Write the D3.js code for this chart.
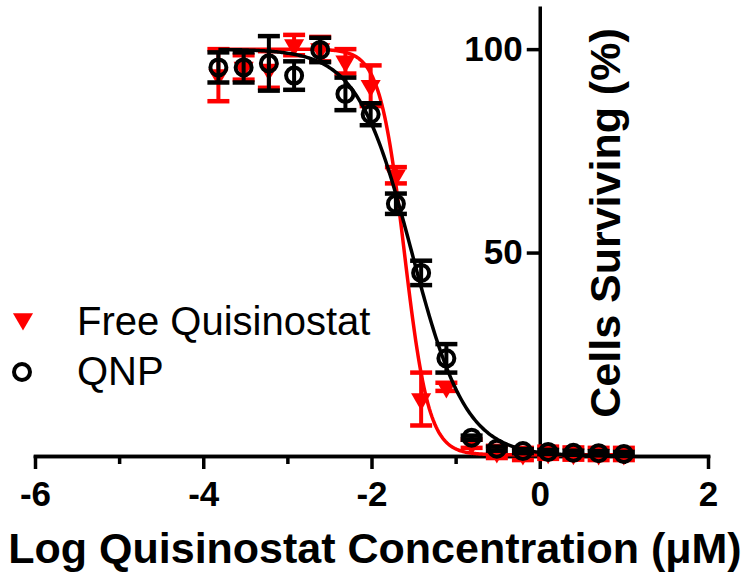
<!DOCTYPE html>
<html>
<head>
<meta charset="utf-8">
<script src="https://cdn.jsdelivr.net/npm/d3@7"></script>
<style>
  html, body { margin: 0; padding: 0; background: #fff; }
  svg { display: block; font-family: "Liberation Sans", Arial, Helvetica, sans-serif; }
</style>
</head>
<body>
<svg id="chart" width="750" height="580"></svg>
<script>
// ---- data ----
const logConc = [-3.82, -3.52, -3.22, -2.92, -2.61, -2.31, -2.01, -1.71, -1.41, -1.11, -0.81, -0.51, -0.20, 0.10, 0.40, 0.70, 1.00];
const freeMean = [93.6, 95.5, 95.0, 101.0, 100.0, 97.0, 91.0, 69.0, 14.0, 17.0, 3.0, 1.0, 0.5, 0.8, 0.6, 0.5, 0.5];
const freeErr  = [6.4, 3.0, 4.5, 2.5, 3.0, 3.0, 5.0, 2.0, 6.5, 1.0, 1.0, 1.5, 1.5, 1.5, 1.5, 1.5, 1.5];
const qnpMean  = [95.5, 95.5, 96.5, 93.5, 99.8, 89.0, 84.0, 62.0, 45.0, 24.0, 4.5, 1.8, 1.2, 1.0, 0.8, 0.7, 0.5];
const qnpErr   = [3.7, 3.7, 6.7, 3.5, 3.0, 4.0, 2.7, 2.5, 3.0, 3.5, 0.5, 0.5, 0.5, 0.5, 0.5, 0.5, 0.5];
// fitted sigmoid parameters [bottom, top, logIC50, hillSlope]
const freeFit = [0.3, 100, -1.61, 3.0];
const qnpFit  = [0.0, 100, -1.52, 1.35];
const xMajorTicks = [-6, -4, -2, 0, 2];
const xMinorTicks = [-5, -3, -1, 1];
const yTicks = [50, 100];
const seriesNames = ["Free Quisinostat", "QNP"];
const seriesColors = ["#ff0000", "#000000"];

// ---- drawing ----
const svg = d3.select("#chart");
const x = d3.scaleLinear().domain([-6, 2]).range([35, 708]);
const y = d3.scaleLinear().domain([0, 110.6]).range([456, 6]);
const AX = 3.5;

function curvePoints(p) {
  const [b, t, c, h] = p;
  const pts = [];
  const x0 = logConc[0], x1 = logConc[logConc.length - 1];
  for (let i = 0; i <= 300; i++) {
    const xv = x0 + (x1 - x0) * i / 300;
    pts.push([xv, b + (t - b) / (1 + Math.pow(10, (xv - c) * h))]);
  }
  return pts;
}
const line = d3.line().x(d => x(d[0])).y(d => y(d[1]));

// axes
const xMinor = d3.axisBottom(x).tickValues(xMinorTicks).tickFormat("").tickSize(8).tickSizeOuter(0);
const xMajor = d3.axisBottom(x).tickValues(xMajorTicks).tickFormat(d => d < 0 ? "-" + Math.abs(d) : String(d)).tickSize(13).tickSizeOuter(0).tickPadding(12);
const gxMinor = svg.append("g").attr("transform", `translate(0,${y(0)})`).call(xMinor);
const gx = svg.append("g").attr("transform", `translate(0,${y(0)})`).call(xMajor);
[gx, gxMinor].forEach(g => {
  g.selectAll("path.domain").attr("stroke", "#000").attr("stroke-width", AX).attr("stroke-linecap", "square");
  g.selectAll(".tick line").attr("stroke", "#000").attr("stroke-width", AX);
});
gx.selectAll(".tick text").attr("fill", "#000").style("font-size", "35px").style("font-weight", "bold");

const yAxis = d3.axisLeft(y).tickValues(yTicks).tickSize(13).tickSizeOuter(0).tickPadding(4);
const gy = svg.append("g").attr("transform", `translate(${x(0)},0)`).call(yAxis);
gy.selectAll("path.domain").attr("stroke", "#000").attr("stroke-width", AX);
gy.selectAll(".tick line").attr("stroke", "#000").attr("stroke-width", AX);
gy.selectAll(".tick text").attr("fill", "#000").style("font-size", "35px").style("font-weight", "bold");

// axis titles
svg.append("text")
  .attr("x", 375).attr("y", 563)
  .attr("text-anchor", "middle")
  .style("font-size", "43px").style("font-weight", "bold")
  .text("Log Quisinostat Concentration (\u03BCM)");
svg.append("text")
  .attr("transform", "translate(620,223) rotate(-90)")
  .attr("text-anchor", "middle")
  .style("font-size", "43px").style("font-weight", "bold")
  .text("Cells Surviving (%)");

// series
const capW = 22;
const triPath = d3.symbol(d3.symbolTriangle, 175)();
function drawSeries(means, errs, fit, color, marker) {
  const g = svg.append("g");
  g.append("path").datum(curvePoints(fit))
    .attr("d", line).attr("fill", "none").attr("stroke", color).attr("stroke-width", 3.5);
  const data = logConc.map((c, i) => ({ c, m: means[i], e: errs[i] }));
  const eb = g.append("g").selectAll("g").data(data).join("g");
  eb.append("line")
    .attr("x1", d => x(d.c)).attr("x2", d => x(d.c))
    .attr("y1", d => y(d.m - d.e)).attr("y2", d => y(d.m + d.e))
    .attr("stroke", color).attr("stroke-width", 4);
  eb.append("line")
    .attr("x1", d => x(d.c) - capW / 2).attr("x2", d => x(d.c) + capW / 2)
    .attr("y1", d => y(d.m + d.e)).attr("y2", d => y(d.m + d.e))
    .attr("stroke", color).attr("stroke-width", 4.5);
  eb.append("line")
    .attr("x1", d => x(d.c) - capW / 2).attr("x2", d => x(d.c) + capW / 2)
    .attr("y1", d => y(d.m - d.e)).attr("y2", d => y(d.m - d.e))
    .attr("stroke", color).attr("stroke-width", 4.5);
  if (marker === "tri") {
    g.append("g").selectAll("path").data(data).join("path")
      .attr("d", triPath)
      .attr("transform", d => `translate(${x(d.c)},${y(d.m)}) rotate(180)`)
      .attr("fill", color);
  } else {
    g.append("g").selectAll("circle").data(data).join("circle")
      .attr("cx", d => x(d.c)).attr("cy", d => y(d.m)).attr("r", 8)
      .attr("fill", "none").attr("stroke", color).attr("stroke-width", 4);
  }
}
drawSeries(freeMean, freeErr, freeFit, seriesColors[0], "tri");
drawSeries(qnpMean, qnpErr, qnpFit, seriesColors[1], "circle");

// legend
const lg = svg.append("g");
lg.append("path").attr("d", triPath).attr("transform", "translate(23,319) rotate(180)").attr("fill", seriesColors[0]);
lg.append("circle").attr("cx", 22).attr("cy", 372).attr("r", 8).attr("fill", "none").attr("stroke", seriesColors[1]).attr("stroke-width", 4);
lg.append("text").attr("x", 77).attr("y", 335).style("font-size", "40px").text(seriesNames[0]);
lg.append("text").attr("x", 77).attr("y", 385).style("font-size", "40px").text(seriesNames[1]);
</script>
</body>
</html>
